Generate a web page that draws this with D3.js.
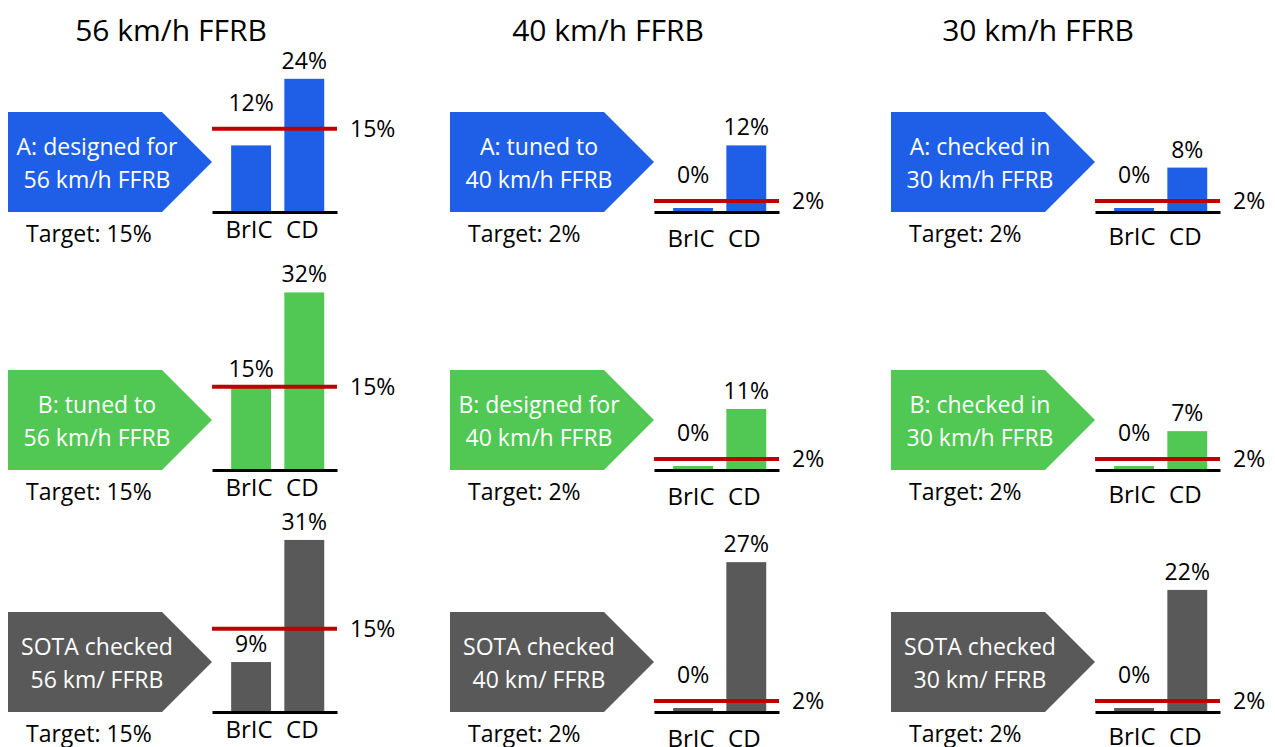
<!DOCTYPE html>
<html>
<head>
<meta charset="utf-8">
<script src="https://cdn.jsdelivr.net/npm/d3@7"></script>
<style>
  html, body { margin: 0; padding: 0; background: #ffffff; }
  svg { display: block; }
  text { font-family: "Open Sans", "DejaVu Sans", sans-serif; }
</style>
</head>
<body>
<svg id="chart" width="1275" height="747"></svg>
<script>
// Test speeds (columns) and their injury targets
const speeds = ["56 km/h FFRB", "40 km/h FFRB", "30 km/h FFRB"];
const targets = [15, 2, 2];

// Injury criteria shown as bars
const metrics = ["BrIC", "CD"];

// Restraint variants (rows)
const variants = ["A", "B", "SOTA"];

// Two-line caption inside each arrow, rows = variant, columns = speed
const captions = [
  [["A: designed for", "56 km/h FFRB"], ["A: tuned to", "40 km/h FFRB"], ["A: checked in", "30 km/h FFRB"]],
  [["B: tuned to", "56 km/h FFRB"], ["B: designed for", "40 km/h FFRB"], ["B: checked in", "30 km/h FFRB"]],
  [["SOTA checked", "56 km/ FFRB"], ["SOTA checked", "40 km/ FFRB"], ["SOTA checked", "30 km/ FFRB"]]
];

// Risk values in %, rows = variant, columns = speed
const bricValues = [
  [12, 0.4, 0.4],
  [15, 0.4, 0.4],
  [9, 0.4, 0.4]
];
const cdValues = [
  [24, 12, 8],
  [32, 11, 7],
  [31, 27, 22]
];

// ---- styling & layout ----
const variantColors = ["#1f5fe8", "#50c853", "#595959"];
const targetColor = "#c00000";
const colX = [8, 450, 891];
const titleX = [171, 608, 1038];
const rowTop = [112, 370, 612];
const tickDy = [26, 35, 33];
const pxPerPct = 5.55;
const minStub = 4;

const svg = d3.select("#chart");
const fmt = v => d3.format(".0f")(v) + "%";

// Column titles
svg.selectAll("text.title")
  .data(speeds)
  .join("text")
  .attr("class", "title")
  .attr("x", (d, i) => titleX[i])
  .attr("y", 41)
  .attr("text-anchor", "middle")
  .attr("font-size", 30)
  .attr("fill", "#000")
  .text(d => d);

variants.forEach((variant, r) => {
  speeds.forEach((speed, c) => {
    const x0 = colX[c];
    const top = rowTop[r];
    const base = top + 100;
    const g = svg.append("g").attr("class", `panel panel-${variant}-${c}`);

    // Arrow-shaped caption box
    const arrow = d3.path();
    arrow.moveTo(x0, top);
    arrow.lineTo(x0 + 154, top);
    arrow.lineTo(x0 + 204, top + 50);
    arrow.lineTo(x0 + 154, top + 100);
    arrow.lineTo(x0, top + 100);
    arrow.closePath();
    g.append("path").attr("d", arrow.toString()).attr("fill", variantColors[r]);

    g.selectAll("text.caption")
      .data(captions[r][c])
      .join("text")
      .attr("class", "caption")
      .attr("x", x0 + 89)
      .attr("y", (d, i) => top + 43 + i * 32.5)
      .attr("text-anchor", "middle")
      .attr("font-size", 23)
      .attr("fill", "#ffffff")
      .text(d => d);

    // Target text under the arrow
    g.append("text")
      .attr("x", x0 + 18)
      .attr("y", top + 130)
      .attr("font-size", 23)
      .attr("fill", "#000")
      .text(`Target: ${targets[c]}%`);

    // Scales
    const x = d3.scaleBand()
      .domain(metrics)
      .range([x0 + 204, x0 + 329])
      .paddingInner(0.25)
      .paddingOuter(0.3)
      .align(0.6);
    const y = d3.scaleLinear()
      .domain([0, 35])
      .range([base, base - 35 * pxPerPct]);

    const values = [bricValues[r][c], cdValues[r][c]];
    const data = metrics.map((m, i) => ({ metric: m, value: values[i] }));
    const barTop = d => Math.min(y(d.value), base - minStub);

    // Bars
    g.selectAll("rect.bar")
      .data(data)
      .join("rect")
      .attr("class", "bar")
      .attr("x", d => x(d.metric))
      .attr("width", x.bandwidth())
      .attr("y", barTop)
      .attr("height", d => base - barTop(d))
      .attr("fill", variantColors[r]);

    // Category axis acting as baseline
    const axis = g.append("g")
      .attr("transform", `translate(0,${base})`)
      .call(d3.axisBottom(x).tickSize(0).tickSizeOuter(0).tickPadding(0));
    axis.select(".domain").attr("stroke", "#000").attr("stroke-width", 3);
    axis.selectAll(".tick text")
      .attr("y", tickDy[c])
      .attr("dy", null)
      .attr("dx", -2)
      .attr("font-family", "'Open Sans', 'DejaVu Sans', sans-serif")
      .attr("font-size", 24)
      .attr("fill", "#000");

    // Target line
    const lineY = y(targets[c]);
    g.append("line")
      .attr("x1", x0 + 204)
      .attr("x2", x0 + 329)
      .attr("y1", lineY)
      .attr("y2", lineY)
      .attr("stroke", targetColor)
      .attr("stroke-width", 4);
    g.append("text")
      .attr("x", x0 + 342)
      .attr("y", lineY)
      .attr("dy", "0.35em")
      .attr("font-size", 23)
      .attr("fill", "#000")
      .text(`${targets[c]}%`);

    // Value labels, lifted above the target line when they would cross it
    g.selectAll("text.value")
      .data(data)
      .join("text")
      .attr("class", "value")
      .attr("x", d => x(d.metric) + x.bandwidth() / 2)
      .attr("y", d => {
        let ty = barTop(d) - 10;
        if (ty - 18 < lineY + 2 && ty + 2 > lineY - 2) ty = lineY - 18;
        return ty;
      })
      .attr("text-anchor", "middle")
      .attr("font-size", 23)
      .attr("fill", "#000")
      .text(d => fmt(d.value));
  });
});
</script>
</body>
</html>
